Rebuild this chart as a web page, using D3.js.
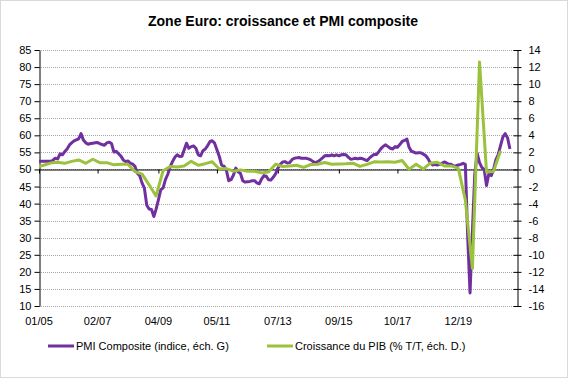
<!DOCTYPE html>
<html lang="fr">
<head>
<meta charset="UTF-8">
<title>Zone Euro: croissance et PMI composite</title>
<script src="https://cdn.jsdelivr.net/npm/d3@7"></script>
<style>
  body, html { margin: 0; padding: 0; background: #fff; overflow: hidden; }
  svg { display: block; font-family: "Liberation Sans", Arial, sans-serif; }
</style>
</head>
<body>
<svg id="chart"></svg>
<script>
// PMI composite, mensuel, de 01/2005 à 10/2021 (échelle de gauche)
const pmiStart = [2005, 0];
const pmi = [
  52.4, 52.4, 52.4, 52.4, 52.4, 52.4, 52.7, 53.3, 53.1, 54.6, 54.3, 55.2, // 2005
  56.0, 57.2, 57.8, 58.4, 58.7, 59.0, 60.5, 58.6, 57.8, 57.4, 57.6, 57.7, // 2006
  57.8, 57.9, 57.6, 57.3, 57.1, 57.8, 58.0, 57.6, 55.1, 55.3, 54.6, 53.9, // 2007
  52.8, 52.3, 52.5, 51.8, 51.6, 50.9, 48.9, 48.2, 46.0, 44.5, 39.5, 38.4, // 2008
  38.3, 36.2, 38.3, 41.1, 44.0, 44.6, 47.0, 48.6, 50.8, 52.3, 53.6, 54.3, // 2009
  53.8, 53.9, 55.7, 57.7, 56.2, 56.7, 56.9, 56.2, 54.3, 54.0, 55.5, 56.0, // 2010
  57.0, 58.2, 58.4, 57.7, 55.8, 53.8, 51.3, 51.0, 49.8, 46.7, 47.0, 48.3, // 2011
  50.4, 49.3, 48.9, 46.7, 46.3, 46.4, 46.5, 46.7, 46.7, 46.1, 45.8, 47.2, // 2012
  48.2, 48.0, 47.0, 46.9, 47.7, 48.7, 50.4, 51.5, 52.2, 52.3, 51.9, 52.0, // 2013
  52.9, 53.3, 53.4, 53.5, 53.3, 53.3, 53.3, 53.1, 52.8, 52.3, 52.0, 52.3, // 2014
  52.8, 53.4, 54.0, 54.1, 54.0, 54.3, 54.0, 54.3, 54.0, 54.3, 54.4, 54.3, // 2015
  53.6, 53.0, 53.1, 53.3, 53.1, 53.3, 53.2, 52.9, 52.6, 53.3, 53.9, 54.4, // 2016
  54.4, 55.2, 56.1, 56.8, 57.2, 56.7, 56.2, 56.0, 56.7, 56.5, 57.3, 58.2, // 2017
  58.5, 58.9, 56.5, 55.3, 55.1, 54.8, 54.9, 54.9, 54.5, 54.1, 53.2, 52.0, // 2018
  51.3, 51.5, 51.3, 51.5, 51.8, 52.2, 51.9, 51.5, 51.5, 51.0, 51.1, 51.3, // 2019
  51.5, 51.8, 51.5, 30.0, 13.8, 31.9, 48.5, 54.8, 52.0, 50.6, 50.0, 45.3, // 2020
  48.8, 48.2, 49.9, 52.8, 54.3, 57.0, 59.5, 60.5, 59.2, 56.0              // 2021
];

// Croissance du PIB, % T/T, trimestriel, de T4 2004 à T2 2021 (échelle de droite)
const gdpStart = [2004, 11];
const gdp = [
  0.3,
  0.5, 0.75, 0.85, 0.72,     // 2005
  0.95, 1.12, 0.72, 1.2,     // 2006
  0.8, 0.8, 0.54, 0.62,      // 2007
  0.62, -0.25, -0.55, -1.8,  // 2008
  -3.1, -0.15, 0.35, 0.3,    // 2009
  0.4, 0.95, 0.5, 0.68,      // 2010
  0.9, 0.05, 0.1, -0.2,      // 2011
  -0.05, -0.2, -0.2, -0.4,   // 2012
  -0.3, 0.62, 0.35, 0.4,     // 2013
  0.5, 0.25, 0.58, 0.62,     // 2014
  0.82, 0.62, 0.64, 0.66,    // 2015
  0.74, 0.36, 0.6, 0.9,      // 2016
  0.88, 0.9, 0.85, 1.05,     // 2017
  0.03, 0.62, 0.05, 0.74,    // 2018
  0.85, 0.42, 0.42, 0.12,    // 2019
  -3.6, -11.6, 12.6, -0.3,   // 2020
  -0.25, 2.2                 // 2021
];

const xTickLabels = ['01/05', '02/07', '04/09', '05/11', '07/13', '09/15', '10/17', '12/19'];
const leftTicks = d3.range(10, 86, 5);
const rightTicks = d3.range(-16, 15, 2);
const title = 'Zone Euro: croissance et PMI composite';
const legendLabels = ['PMI Composite (indice, éch. G)', 'Croissance du PIB (% T/T, éch. D.)'];

const width = 568, height = 378;
const colPmi = '#7030a0', colGdp = '#9bc23c';

const svg = d3.select('#chart').attr('width', width).attr('height', height);

svg.append('rect')
  .attr('x', 0.5).attr('y', 0.5)
  .attr('width', width - 1).attr('height', height - 1)
  .attr('fill', '#fff').attr('stroke', '#d9d9d9');

const plot = { left: 39, right: 517, top: 50, bottom: 306 };

const x = d3.scaleTime()
  .domain([new Date(2005, 0, 1), new Date(2022, 0, 1)])
  .range([plot.left, plot.right]);
const yL = d3.scaleLinear().domain([10, 85]).range([plot.bottom, plot.top]);
const yR = d3.scaleLinear().domain([-16, 14]).range([plot.bottom, plot.top]);

const pmiData = pmi.map((v, i) => ({ date: new Date(pmiStart[0], pmiStart[1] + i, 1), v }));
const gdpData = gdp.map((v, i) => ({ date: new Date(gdpStart[0], gdpStart[1] + 3 * i, 1), v }));

// titre
svg.append('text')
  .attr('x', 283).attr('y', 26)
  .attr('text-anchor', 'middle')
  .attr('font-size', '14px').attr('font-weight', 'bold')
  .attr('fill', '#000')
  .text(title);

// grille
svg.append('g').selectAll('line')
  .data(leftTicks)
  .join('line')
  .attr('x1', plot.left).attr('x2', plot.right)
  .attr('y1', d => Math.round(yL(d)) + 0.5).attr('y2', d => Math.round(yL(d)) + 0.5)
  .attr('stroke', '#a6a6a6').attr('stroke-width', 1)
  .attr('stroke-dasharray', '1,1');

// axe de gauche
const leftAxis = svg.append('g')
  .attr('transform', `translate(${plot.left + 0.5},0)`)
  .call(d3.axisLeft(yL).tickValues(leftTicks).tickSize(5).tickPadding(3).tickSizeOuter(0));
leftAxis.select('.domain').attr('stroke', '#000');
leftAxis.selectAll('.tick line').attr('stroke', '#000');
leftAxis.selectAll('text').attr('font-size', '11px').attr('fill', '#000')
  .attr('font-family', '"Liberation Sans", Arial, sans-serif');

// axe de droite, traits croisés (tiret simple pour le signe moins)
const rightAxis = svg.append('g')
  .attr('transform', `translate(${plot.right + 0.5},0)`)
  .call(d3.axisRight(yR).tickValues(rightTicks).tickSize(4).tickPadding(7).tickSizeOuter(0)
    .tickFormat(d => String(d)));
rightAxis.select('.domain').attr('stroke', '#000');
rightAxis.selectAll('.tick line').attr('stroke', '#000').attr('x1', -4);
rightAxis.selectAll('text').attr('font-size', '11px').attr('fill', '#000')
  .attr('font-family', '"Liberation Sans", Arial, sans-serif');

// axe des dates posé sur la ligne 50 / 0
const xTicks = xTickLabels.map(s => {
  const [mm, yy] = s.split('/');
  return new Date(2000 + +yy, +mm - 1, 1);
});
const zeroY = Math.round(yL(50)) + 0.5;
const xAxis = svg.append('g')
  .attr('transform', `translate(0,${zeroY})`)
  .call(d3.axisBottom(x).tickValues(xTicks).tickSize(4).tickSizeOuter(0).tickFormat(() => ''));
xAxis.select('.domain').attr('stroke', '#000');
xAxis.selectAll('.tick line').attr('stroke', '#000');

svg.append('g').selectAll('text')
  .data(xTicks)
  .join('text')
  .attr('x', d => x(d))
  .attr('y', plot.bottom + 19)
  .attr('text-anchor', 'middle')
  .attr('font-size', '11px').attr('fill', '#000')
  .text((d, i) => xTickLabels[i]);

// courbes
svg.append('clipPath').attr('id', 'clip')
  .append('rect')
  .attr('x', plot.left).attr('y', 0)
  .attr('width', plot.right - plot.left).attr('height', height);

const lineL = d3.line().x(d => x(d.date)).y(d => yL(d.v));
const lineR = d3.line().x(d => x(d.date)).y(d => yR(d.v));

svg.append('path')
  .datum(pmiData)
  .attr('clip-path', 'url(#clip)')
  .attr('fill', 'none')
  .attr('stroke', colPmi).attr('stroke-width', 3)
  .attr('stroke-linejoin', 'round')
  .attr('d', lineL);

svg.append('path')
  .datum(gdpData)
  .attr('clip-path', 'url(#clip)')
  .attr('fill', 'none')
  .attr('stroke', colGdp).attr('stroke-width', 3)
  .attr('stroke-linejoin', 'round')
  .attr('d', lineR);

// légende
const legend = svg.append('g');
const legendItems = [
  { label: legendLabels[0], color: colPmi, x: 48 },
  { label: legendLabels[1], color: colGdp, x: 267 }
];
legendItems.forEach(item => {
  legend.append('line')
    .attr('x1', item.x).attr('x2', item.x + 26)
    .attr('y1', 346).attr('y2', 346)
    .attr('stroke', item.color).attr('stroke-width', 3);
  legend.append('text')
    .attr('x', item.x + 28).attr('y', 350)
    .attr('font-size', '11px').attr('fill', '#000')
    .text(item.label);
});
</script>
</body>
</html>
